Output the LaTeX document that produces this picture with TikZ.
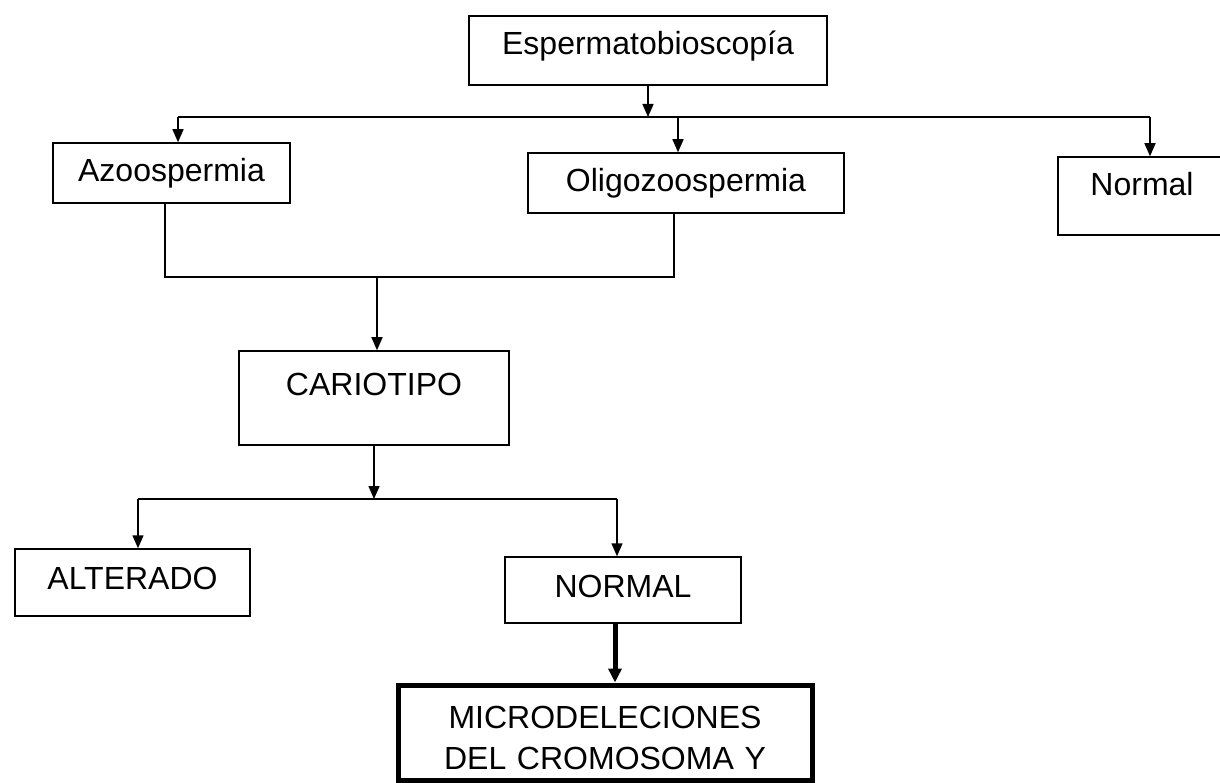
\documentclass[tikz,border=0pt]{standalone}
\usepackage{fontspec}
\setmainfont{Liberation Sans}
\usetikzlibrary{arrows.meta}
\begin{document}
\begin{tikzpicture}[x=1pt,y=-1pt,
  box/.style={draw,line width=1.5pt,inner sep=0pt,align=center,
    font=\fontsize{32}{41}\selectfont},
  ln/.style={line width=1.5pt},
  arr/.style={line width=1.5pt,-{Triangle[length=13pt,width=11pt]}},
  thickarr/.style={line width=5pt,-{Triangle[length=14pt,width=13pt]}}]
\useasboundingbox (0,0) rectangle (1220,783);
% nodes
\node[box,text width=358pt,text height=39pt,text depth=30pt] (esp) at (648,50.5) {Espermatobioscopía};
\node[box,text width=237pt,text height=39pt,text depth=21pt] (azo) at (171.5,173) {Azoospermia};
\node[box,text width=316pt,text height=39pt,text depth=21pt] (oli) at (686,183) {Oligozoospermia};
\node[box,text width=168pt,text height=39pt,text depth=39pt] (nor) at (1142,196) {Normal};
\node[box,text width=270pt,text height=44pt,text depth=50pt] (car) at (374,398) {CARIOTIPO};
\node[box,text width=235pt,text height=40pt,text depth=27pt] (alt) at (132.5,582.5) {ALTERADO};
\node[box,text width=236pt,text height=40pt,text depth=26pt] (nml) at (623,590) {NORMAL};
\node[box,line width=5pt,text width=414pt,text height=43pt,text depth=52pt] (mic) at (605,732.5) {MICRODELECIONES\\DEL CROMOSOMA Y};
% first branching
\coordinate (L) at (178,117);
\coordinate (M) at (678,117);
\coordinate (R) at (1150,117);
\draw[ln] (L) -- (R);
\draw[arr] (esp.south) -- (esp.south |- L);
\draw[arr] (L) -- (L |- azo.north);
\draw[arr] (M) -- (M |- oli.north);
\draw[arr] (R) -- (R |- nor.north);
% merge to karyotype
\coordinate (J1) at (165,277);
\coordinate (J2) at (674,277);
\coordinate (J) at (377,277);
\draw[ln] (J1 |- azo.south) -- (J1) -- (J2) -- (J2 |- oli.south);
\draw[arr] (J) -- (J |- car.north);
% second branching
\coordinate (K) at (374,499);
\coordinate (KL) at (138,499);
\coordinate (KR) at (617,499);
\draw[ln] (KL) -- (KR);
\draw[arr] (car.south) -- (K);
\draw[arr] (KL) -- (KL |- alt.north);
\draw[arr] (KR) -- (KR |- nml.north);
% thick arrow
\coordinate (T) at (615,623);
\draw[thickarr] (T) -- (T |- mic.north);
\end{tikzpicture}
\end{document}
